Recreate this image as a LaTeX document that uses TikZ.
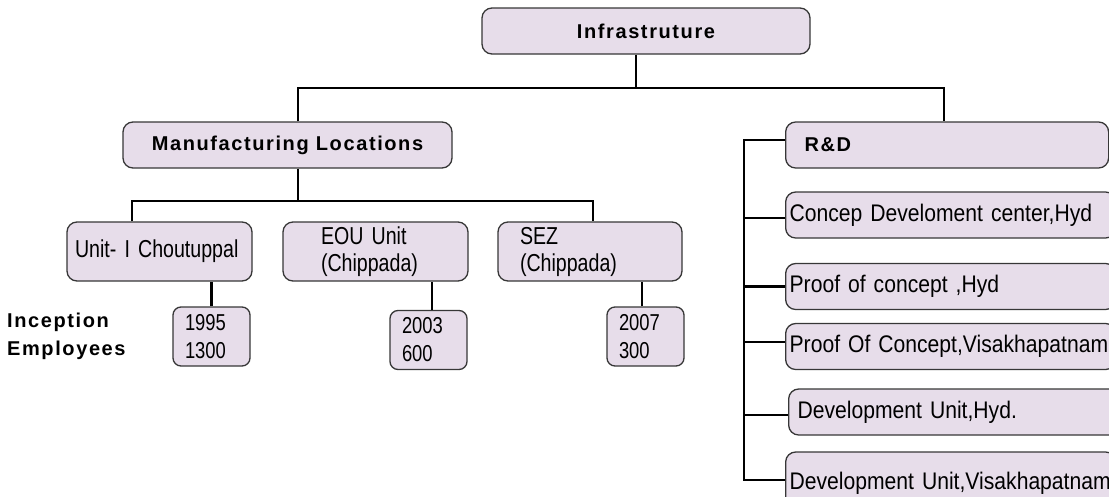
\documentclass[tikz,border=0pt]{standalone}
\usepackage{fontspec}
\setmainfont{Liberation Sans}
\newfontfamily\headfont[LetterSpace=8]{Liberation Sans}
\newfontfamily\unitfont[FakeStretch=0.8]{Liberation Sans}
\newfontfamily\rdfont[FakeStretch=0.88]{Liberation Sans}
\usepackage{xcolor}
\usetikzlibrary{positioning}
\definecolor{boxfill}{RGB}{231,221,234}
\definecolor{boxline}{RGB}{55,55,55}

\begin{document}
\begin{tikzpicture}[x=1pt, y=-1pt,
  box/.style={draw=boxline, fill=boxfill, line width=1.3pt, rounded corners=10pt, inner ysep=0pt},
  head/.style={box, font=\headfont\bfseries\fontsize{20}{23}\selectfont},
  lowbox/.style={box, align=left, minimum height=59pt, font=\unitfont\fontsize{24.5}{27}\selectfont},
  yearbox/.style={box, rounded corners=8pt, align=left, minimum height=59pt, inner xsep=12pt,
                  text width=53pt, font=\unitfont\fontsize{23}{28}\selectfont},
  rdbox/.style={box, anchor=west, align=left, inner xsep=4pt, text width=322pt,
                minimum height=46pt, font=\rdfont\fontsize{24}{26}\selectfont},
  link/.style={line width=2.2pt, black}]
  \useasboundingbox (0,0) rectangle (1109,496);
  \clip (0,0) rectangle (1109,496);

  % Top levels
  \node[head, minimum width=328pt, minimum height=46pt] (infra) at (646,31) {Infrastruture};
  \node[head, minimum width=329pt, minimum height=46pt] (mfg) at (287.5,145) {Manufacturing Locations};
  \node[head, anchor=west, align=left, text width=285pt, inner xsep=19pt, minimum height=46pt] (rnd) at (785,145) {R\&D};

  % Manufacturing units
  \node[lowbox, inner xsep=8pt, text width=169pt] (unit) at (159.5,251.5) {Unit- I Choutuppal};
  \node[lowbox, inner xsep=38pt, text width=109pt] (eou) at (375.5,251.5) {EOU Unit\\(Chippada)};
  \node[lowbox, inner xsep=22pt, text width=140pt] (sez) at (590,251.5) {SEZ\\(Chippada)};

  % Inception / employees
  \node[yearbox] (yr1) at (211.5,336.5) {1995\\1300};
  \node[yearbox] (yr2) at (428.5,340) {2003\\600};
  \node[yearbox] (yr3) at (645.5,336.5) {2007\\300};
  \node[font=\headfont\bfseries\fontsize{20}{28}\selectfont, align=left, anchor=west, inner sep=0pt]
    (yrlabel) at (7,336) {Inception\\Employees};

  % R&D centres
  \node[rdbox] (cdc) at (785,215) {Concep Develoment center,Hyd};
  \node[rdbox] (poch) at (785,286.5) {Proof of concept ,Hyd};
  \node[rdbox] (pocv) at (785,346.5) {Proof Of Concept,Visakhapatnam};
  \node[rdbox, inner xsep=9pt] (duh) at (788,412) {Development Unit,Hyd.};
  \node[rdbox, minimum height=62pt] (duv) at (785,483) {Development Unit,Visakhapatnam};

  % Trunk
  \draw[link] ([xshift=-10pt]infra.south) -- ++(0,33) coordinate (bus);
  \draw[link] ([xshift=10.5pt]mfg.north) |- (bus) -| ([xshift=-3.5pt]rnd.north);
  \draw[link] ([xshift=10.5pt]mfg.south) -- ++(0,32) coordinate (mbus);
  \draw[link] ([xshift=-27.5pt]unit.north) |- (mbus) -| ([xshift=3pt]sez.north);

  % Units to years
  \draw[link] (yr1.north) -- (yr1.north |- unit.south);
  \draw[link] ([xshift=3.5pt]yr2.north) -- ([xshift=3.5pt]yr2.north |- eou.south);
  \draw[link] ([xshift=-3.5pt]yr3.north) -- ([xshift=-3.5pt]yr3.north |- sez.south);

  % R&D spine
  \coordinate (spinebot) at (744,480);
  \draw[link] ([yshift=5pt]rnd.west) -| (spinebot) -- ([yshift=3pt]duv.west);
  \foreach \b/\d/\l in {cdc/-3/41, poch/0/41, pocv/4.5/41, duh/-3/44}
    \draw[link] ([yshift=\d pt]\b.west) -- ++(-\l,0);
\end{tikzpicture}
\end{document}
